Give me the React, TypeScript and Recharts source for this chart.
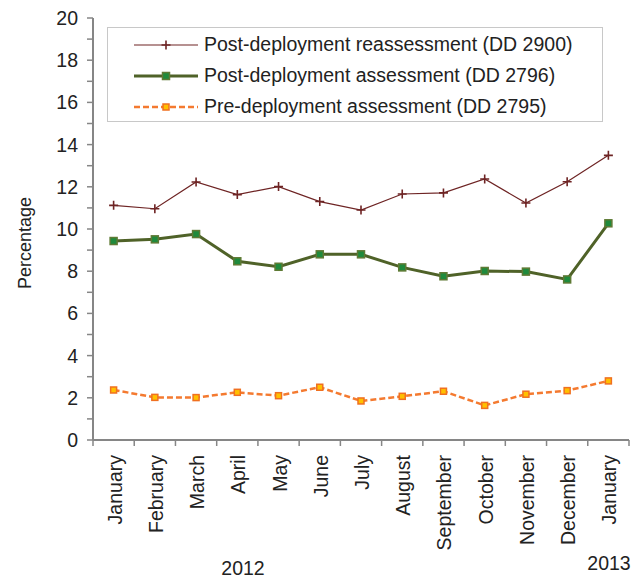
import React from "react";
import { LineChart, Line, XAxis, YAxis } from "recharts";

const months = [
  "January", "February", "March", "April", "May", "June", "July",
  "August", "September", "October", "November", "December", "January",
];
const reassessment = [11.12, 10.96, 12.23, 11.63, 12.01, 11.3, 10.9, 11.66, 11.71, 12.37, 11.23, 12.24, 13.49];
const postAssessment = [9.43, 9.51, 9.76, 8.47, 8.21, 8.8, 8.8, 8.18, 7.76, 8.01, 7.98, 7.61, 10.27];
const preAssessment = [2.37, 2.02, 2.01, 2.26, 2.1, 2.5, 1.85, 2.07, 2.31, 1.64, 2.17, 2.34, 2.8];
const yTicks = [0, 1, 2, 3, 4, 5, 6, 7, 8, 9, 10, 11, 12, 13, 14, 15, 16, 17, 18, 19, 20];
const seriesNames = [
  "Post-deployment reassessment (DD 2900)",
  "Post-deployment assessment (DD 2796)",
  "Pre-deployment assessment (DD 2795)",
];

const data = months.map((m, i) => ({
  idx: i,
  month: m,
  reassessment: reassessment[i],
  post: postAssessment[i],
  pre: preAssessment[i],
}));

// label ticks at month centres, tick marks at the boundaries between months
const xTicks: number[] = [];
for (let i = -0.5; i <= months.length - 0.5; i += 0.5) xTicks.push(i);

const FONT = "'Liberation Sans', Arial, sans-serif";
const AXIS = "#868686";
const TEXT = "#222";
const RED = "#6e2424";
const GREEN = "#4f6228";
const ORANGE = "#f47a30";

const MonthTick = (props: any) => {
  const { x, y, payload } = props;
  const v = payload.value;
  if (Number.isInteger(v)) {
    const ty = y + 15;
    return (
      <text
        x={x + 1}
        y={ty}
        transform={`rotate(-90 ${x + 1} ${ty})`}
        textAnchor="end"
        dominantBaseline="central"
        fontSize={19.5}
        fontFamily={FONT}
        fill={TEXT}
      >
        {months[v]}
      </text>
    );
  }
  return <line x1={x} y1={y} x2={x} y2={y + 6} stroke={AXIS} strokeWidth={1.5} />;
};

const PlusDot = (props: any) => {
  const { cx, cy } = props;
  if (cx == null || cy == null) return null;
  return (
    <path
      d={`M${cx - 4.5},${cy}H${cx + 4.5}M${cx},${cy - 4.5}V${cy + 4.5}`}
      stroke={RED}
      strokeWidth={1.6}
    />
  );
};

const squareDot = (fill: string, stroke: string, size: number) => (props: any) => {
  const { cx, cy } = props;
  if (cx == null || cy == null) return null;
  return (
    <rect
      x={cx - size / 2}
      y={cy - size / 2}
      width={size}
      height={size}
      fill={fill}
      stroke={stroke}
      strokeWidth={1.5}
    />
  );
};

const GreenDot = squareDot("#1f8a3c", "#5e7a34", 7);
const OrangeDot = squareDot("#ffc000", "#f07020", 6);

function LegendSample({ kind }: { kind: number }) {
  if (kind === 0)
    return (
      <svg width={64} height={12}>
        <line x1={0} y1={6} x2={64} y2={6} stroke={RED} strokeWidth={1.2} />
        <path d="M27.5,6H36.5M32,1.5V10.5" stroke={RED} strokeWidth={1.6} />
      </svg>
    );
  if (kind === 1)
    return (
      <svg width={64} height={12}>
        <line x1={0} y1={6} x2={64} y2={6} stroke={GREEN} strokeWidth={3} />
        <rect x={28.5} y={2.5} width={7} height={7} fill="#1f8a3c" stroke="#5e7a34" strokeWidth={1.5} />
      </svg>
    );
  return (
    <svg width={64} height={12}>
      <line x1={0} y1={6} x2={64} y2={6} stroke={ORANGE} strokeWidth={2.5} strokeDasharray="6 3" />
      <rect x={29} y={3} width={6} height={6} fill="#ffc000" stroke="#f07020" strokeWidth={1.5} />
    </svg>
  );
}

export default function App() {
  return (
    <div
      style={{
        position: "absolute",
        left: 0,
        top: 0,
        width: 644,
        height: 577,
        background: "#fff",
        fontFamily: FONT,
      }}
    >
      <LineChart
        width={644}
        height={577}
        data={data}
        margin={{ top: 18, right: 15, bottom: 17, left: 33 }}
      >
        <XAxis
          dataKey="idx"
          type="number"
          domain={[-0.5, months.length - 0.5]}
          ticks={xTicks}
          interval={0}
          tickSize={0}
          tickMargin={0}
          tickLine={false}
          tick={<MonthTick />}
          axisLine={{ stroke: AXIS, strokeWidth: 2 }}
          height={120}
        />
        <YAxis
          domain={[0, 20]}
          ticks={yTicks}
          interval={0}
          width={60}
          tickSize={6}
          tickMargin={9}
          tickFormatter={(v: number) => (v % 2 === 0 ? String(v) : "")}
          tick={{ fontSize: 19.5, fill: TEXT, fontFamily: FONT }}
          tickLine={{ stroke: AXIS, strokeWidth: 1.5 }}
          axisLine={{ stroke: AXIS, strokeWidth: 2 }}
        />
        <Line
          dataKey="reassessment"
          stroke={RED}
          strokeWidth={1.2}
          dot={<PlusDot />}
          activeDot={false}
          isAnimationActive={false}
        />
        <Line
          dataKey="post"
          stroke={GREEN}
          strokeWidth={3}
          dot={<GreenDot />}
          activeDot={false}
          isAnimationActive={false}
        />
        <Line
          dataKey="pre"
          stroke={ORANGE}
          strokeWidth={2.5}
          strokeDasharray="6 3"
          dot={<OrangeDot />}
          activeDot={false}
          isAnimationActive={false}
        />
      </LineChart>

      {/* legend */}
      <div
        style={{
          position: "absolute",
          left: 107,
          top: 27,
          width: 496,
          height: 95,
          border: "1px solid #c8c8c8",
          boxSizing: "border-box",
          paddingLeft: 26,
          paddingTop: 1,
        }}
      >
        {seriesNames.map((name, i) => (
          <div
            key={name}
            style={{ display: "flex", alignItems: "center", height: 31, fontSize: 19.5, color: TEXT }}
          >
            <LegendSample kind={i} />
            <span style={{ marginLeft: 6, whiteSpace: "nowrap" }}>{name}</span>
          </div>
        ))}
      </div>

      {/* axis title */}
      <div
        style={{
          position: "absolute",
          left: 25,
          top: 243,
          transform: "translate(-50%, -50%) rotate(-90deg)",
          fontSize: 18,
          color: TEXT,
          whiteSpace: "nowrap",
        }}
      >
        Percentage
      </div>

      {/* years */}
      <div style={{ position: "absolute", left: 243, top: 568, transform: "translate(-50%, -50%)", fontSize: 19.5, color: TEXT }}>
        2012
      </div>
      <div style={{ position: "absolute", left: 609, top: 563, transform: "translate(-50%, -50%)", fontSize: 19.5, color: TEXT }}>
        2013
      </div>
    </div>
  );
}
